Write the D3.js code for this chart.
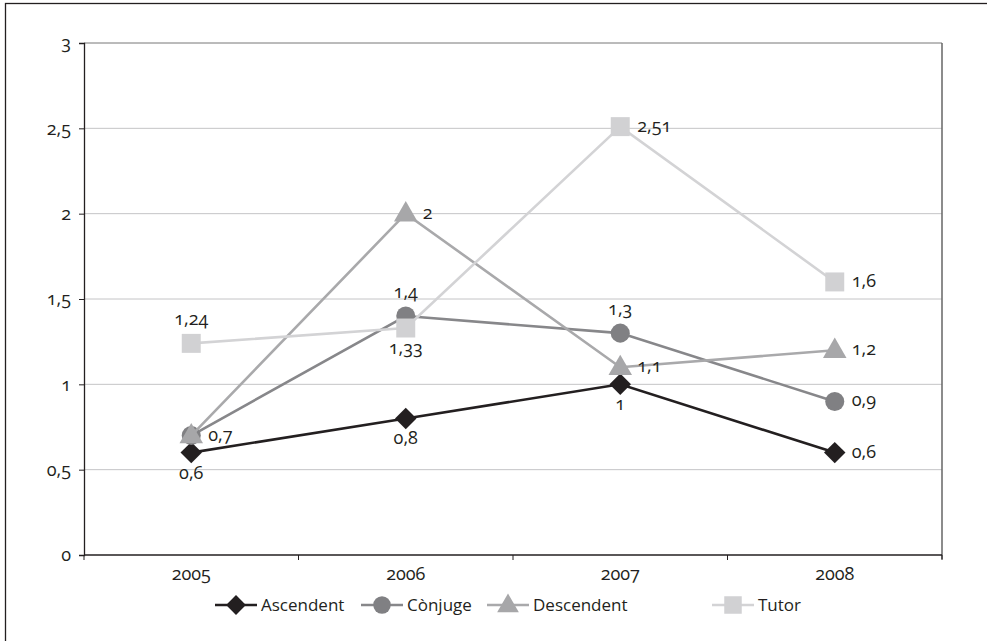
<!DOCTYPE html>
<html><head><meta charset="utf-8">
<script src="https://cdn.jsdelivr.net/npm/d3@7"></script>
<style>
body{margin:0;background:#fff;}
svg text{font-family:"Open Sans",Lato,sans-serif;font-variant-numeric:oldstyle-nums;font-feature-settings:"onum" 1;fill:#231f20;}
</style></head>
<body><svg id="c" width="987" height="641"></svg>
<script>
const years = ["2005","2006","2007","2008"];
const ascendent = [0.6, 0.8, 1, 0.6];
const conjuge = [0.7, 1.4, 1.3, 0.9];
const descendent = [0.7, 2, 1.1, 1.2];
const tutor = [1.24, 1.33, 2.51, 1.6];
const yTicks = [0, 0.5, 1, 1.5, 2, 2.5, 3];
const seriesNames = ["Ascendent", "Cònjuge", "Descendent", "Tutor"];

const series = [
  {name: seriesNames[0], values: ascendent, color: "#231f20", line: "#231f20", shape: "diamond",
   pos: ["below","below","below","right"]},
  {name: seriesNames[1], values: conjuge, color: "#808083", line: "#87878a", shape: "circle",
   pos: ["right","above","above","right"]},
  {name: seriesNames[2], values: descendent, color: "#a7a7a9", line: "#a9a9ab", shape: "triangle",
   pos: [null,"right","right","right"]},
  {name: seriesNames[3], values: tutor, color: "#d1d1d3", line: "#d3d3d5", shape: "square",
   pos: ["above","below","right","right"]}
];

const FS = 18;
const svg = d3.select("#c");
const L = 84, R = 942, T = 43, B = 555;
const x = d3.scaleBand().domain(years).range([L, R]);
const y = d3.scaleLinear().domain([0, 3]).range([B, T]);
const fmt = v => String(v).replace(".", ",");

svg.append("rect").attr("x", 5.5).attr("y", 3.5).attr("width", 1000).attr("height", 700)
  .attr("fill", "none").attr("stroke", "#231f20").attr("stroke-width", 1.3);

svg.append("g").selectAll("line").data(yTicks.filter(d => d > 0 && d < 3)).join("line")
  .attr("x1", L).attr("x2", R).attr("y1", d => y(d)).attr("y2", d => y(d))
  .attr("stroke", "#c4c4c6").attr("stroke-width", 1);
svg.append("line").attr("x1", L).attr("x2", R).attr("y1", y(3)).attr("y2", y(3)).attr("stroke", "#777").attr("stroke-width", 1);
svg.append("line").attr("x1", R).attr("x2", R).attr("y1", T).attr("y2", B + 4).attr("stroke", "#666").attr("stroke-width", 1.5);

const yAxis = svg.append("g").attr("transform", `translate(${L},0)`)
  .call(d3.axisLeft(y).tickValues(yTicks).tickSize(5).tickPadding(8).tickFormat(fmt));
yAxis.select(".domain").attr("stroke", "#231f20").attr("stroke-width", 1.3);
yAxis.selectAll(".tick line").attr("stroke", "#231f20");
yAxis.selectAll("text").attr("font-size", FS).style("font-family", null).attr("fill", "#231f20");

const xg = svg.append("g").attr("transform", `translate(0,${B})`);
xg.append("line").attr("x1", L).attr("x2", R).attr("stroke", "#231f20").attr("stroke-width", 1.3);
const bounds = years.map(d => x(d)).concat([R]);
xg.selectAll("line.t").data(bounds).join("line").attr("class", "t")
  .attr("x1", d => d).attr("x2", d => d).attr("y1", 0).attr("y2", 5).attr("stroke", "#231f20");
xg.selectAll("text").data(years).join("text")
  .attr("x", d => x(d) + x.bandwidth() / 2).attr("y", 25).attr("text-anchor", "middle")
  .attr("font-size", FS).text(d => d);

function marker(g, s, cx, cy, scale) {
  let p;
  if (s.shape === "diamond") {
    p = g.append("path").attr("d", d3.symbol().type(d3.symbolSquare).size(230 * scale)())
      .attr("transform", `translate(${cx},${cy}) rotate(45)`);
  } else if (s.shape === "triangle") {
    p = g.append("path").attr("d", d3.symbol().type(d3.symbolTriangle).size(240 * scale)())
      .attr("transform", `translate(${cx},${cy + 1})`);
  } else {
    p = g.append("path").attr("d", d3.symbol().type(s.shape === "circle" ? d3.symbolCircle : d3.symbolSquare).size((s.shape === "circle" ? 285 : 360) * scale)())
      .attr("transform", `translate(${cx},${cy})`);
  }
  p.attr("fill", s.color);
}

const cx = d => x(d) + x.bandwidth() / 2;
const line = d3.line().x((v, i) => cx(years[i])).y(v => y(v));
series.forEach(s => {
  const g = svg.append("g");
  g.append("path").attr("d", line(s.values)).attr("fill", "none").attr("stroke", s.line).attr("stroke-width", 2.6);
  s.values.forEach((v, i) => marker(g, s, cx(years[i]), y(v), 1));
});
series.forEach(s => {
  s.values.forEach((v, i) => {
    const p = s.pos[i]; if (!p) return;
    const px = cx(years[i]), py = y(v);
    const t = svg.append("text").attr("font-size", FS).text(fmt(v));
    if (p === "right") t.attr("x", px + 17).attr("y", py + 5);
    else if (p === "above") t.attr("x", px).attr("y", py - 18).attr("text-anchor", "middle");
    else t.attr("x", px).attr("y", py + 26).attr("text-anchor", "middle");
  });
});

const legX = [215, 361, 487, 712];
const lg = svg.append("g");
series.forEach((s, i) => {
  const lx = legX[i], ly = 605;
  lg.append("line").attr("x1", lx).attr("x2", lx + 42).attr("y1", ly).attr("y2", ly).attr("stroke", s.line).attr("stroke-width", 2.6);
  marker(lg, s, lx + 21, ly, 0.85);
  lg.append("text").attr("x", lx + 46).attr("y", ly + 6).attr("font-size", 17).text(s.name);
});
</script></body></html>
